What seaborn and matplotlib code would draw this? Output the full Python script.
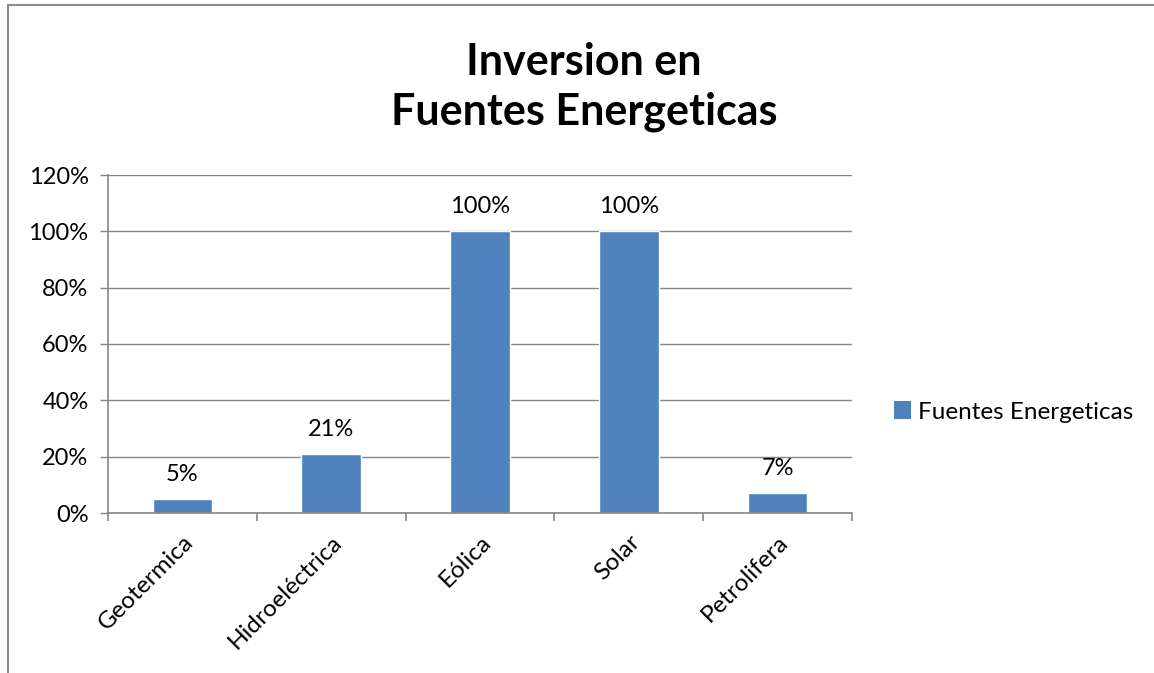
import matplotlib
matplotlib.use("Agg")
import matplotlib.pyplot as plt
import seaborn as sns
import pandas as pd
from matplotlib.patches import Patch
from matplotlib.lines import Line2D

categories = ["Geotermica", "Hidroeléctrica", "Eólica", "Solar", "Petrolifera"]
values = [0.05, 0.21, 1.00, 1.00, 0.07]
labels = ["5%", "21%", "100%", "100%", "7%"]
yticks = [0, 0.2, 0.4, 0.6, 0.8, 1.0, 1.2]
ytick_labels = ["0%", "20%", "40%", "60%", "80%", "100%", "120%"]
series_name = "Fuentes Energeticas"
title = "Inversion en\nFuentes Energeticas"

sns.set_style("white")
plt.rcParams['font.family'] = ['Lato', 'DejaVu Sans']
plt.rcParams['text.color'] = 'black'
plt.rcParams['xtick.labelcolor'] = 'black'
plt.rcParams['ytick.labelcolor'] = 'black'

df = pd.DataFrame({"cat": categories, "val": values})
bar_color = "#4F81BD"
grid_color = "#868686"
fs = 17

fig = plt.figure(figsize=(11.54, 6.73), dpi=100)
ax = fig.add_axes([108/1154, 1 - 513/673, (852-108)/1154, (513-175)/673])

sns.barplot(data=df, x="cat", y="val", color=bar_color, width=0.4, ax=ax, saturation=1)

ax.set_xlim(-0.5, len(categories) - 0.5)
ax.set_ylim(0, 1.2)
ax.set_yticks(yticks)
ax.set_yticklabels(ytick_labels, fontsize=fs, color="black")
ax.yaxis.grid(True, color=grid_color, linewidth=1)
ax.set_axisbelow(True)
ax.set_xlabel("")
ax.set_ylabel("")

# x ticks at category boundaries
ax.set_xticks([i - 0.5 for i in range(len(categories) + 1)], minor=True)
ax.set_xticks(range(len(categories)))
ax.set_xticklabels(categories, rotation=45, ha="right", rotation_mode="anchor", fontsize=17.5, color="black")
ax.tick_params(axis="x", which="major", length=0, pad=13)
ax.tick_params(axis="x", which="minor", length=6, color=grid_color, width=1.2, direction="out", bottom=True)
ax.tick_params(axis="y", length=6, color=grid_color, width=1, direction="out", left=True, pad=8)

for s in ["top", "right"]:
    ax.spines[s].set_visible(False)
for s in ["left", "bottom"]:
    ax.spines[s].set_color(grid_color)
    ax.spines[s].set_linewidth(1.2)

for i, (v, lab) in enumerate(zip(values, labels)):
    ax.annotate(lab, (i, v), xytext=(0, 10), textcoords="offset points",
                ha="center", va="bottom", fontsize=fs, color="black")

fig.text(584/1154, 1 - 87/673, title, ha="center", va="center", fontsize=31,
         fontweight="bold", linespacing=1.3, color="black")

handles = [Patch(facecolor=bar_color, edgecolor="none", label=series_name)]
leg = fig.legend(handles=handles, loc="center left", bbox_to_anchor=(894/1154, 1 - 412/673),
           frameon=False, fontsize=17.5, handlelength=0.7, handleheight=0.7, handletextpad=0.3,
           borderpad=0, borderaxespad=0)
for t in leg.get_texts():
    t.set_color("black")

# outer border
fig.add_artist(Line2D([8/1154, 8/1154], [0, 1 - 5/673], transform=fig.transFigure, color="#8C8C8C", lw=1.5))
fig.add_artist(Line2D([8/1154, 1], [1 - 5/673, 1 - 5/673], transform=fig.transFigure, color="#8C8C8C", lw=1.5))

fig.savefig("out.png", dpi=100, facecolor="white")
